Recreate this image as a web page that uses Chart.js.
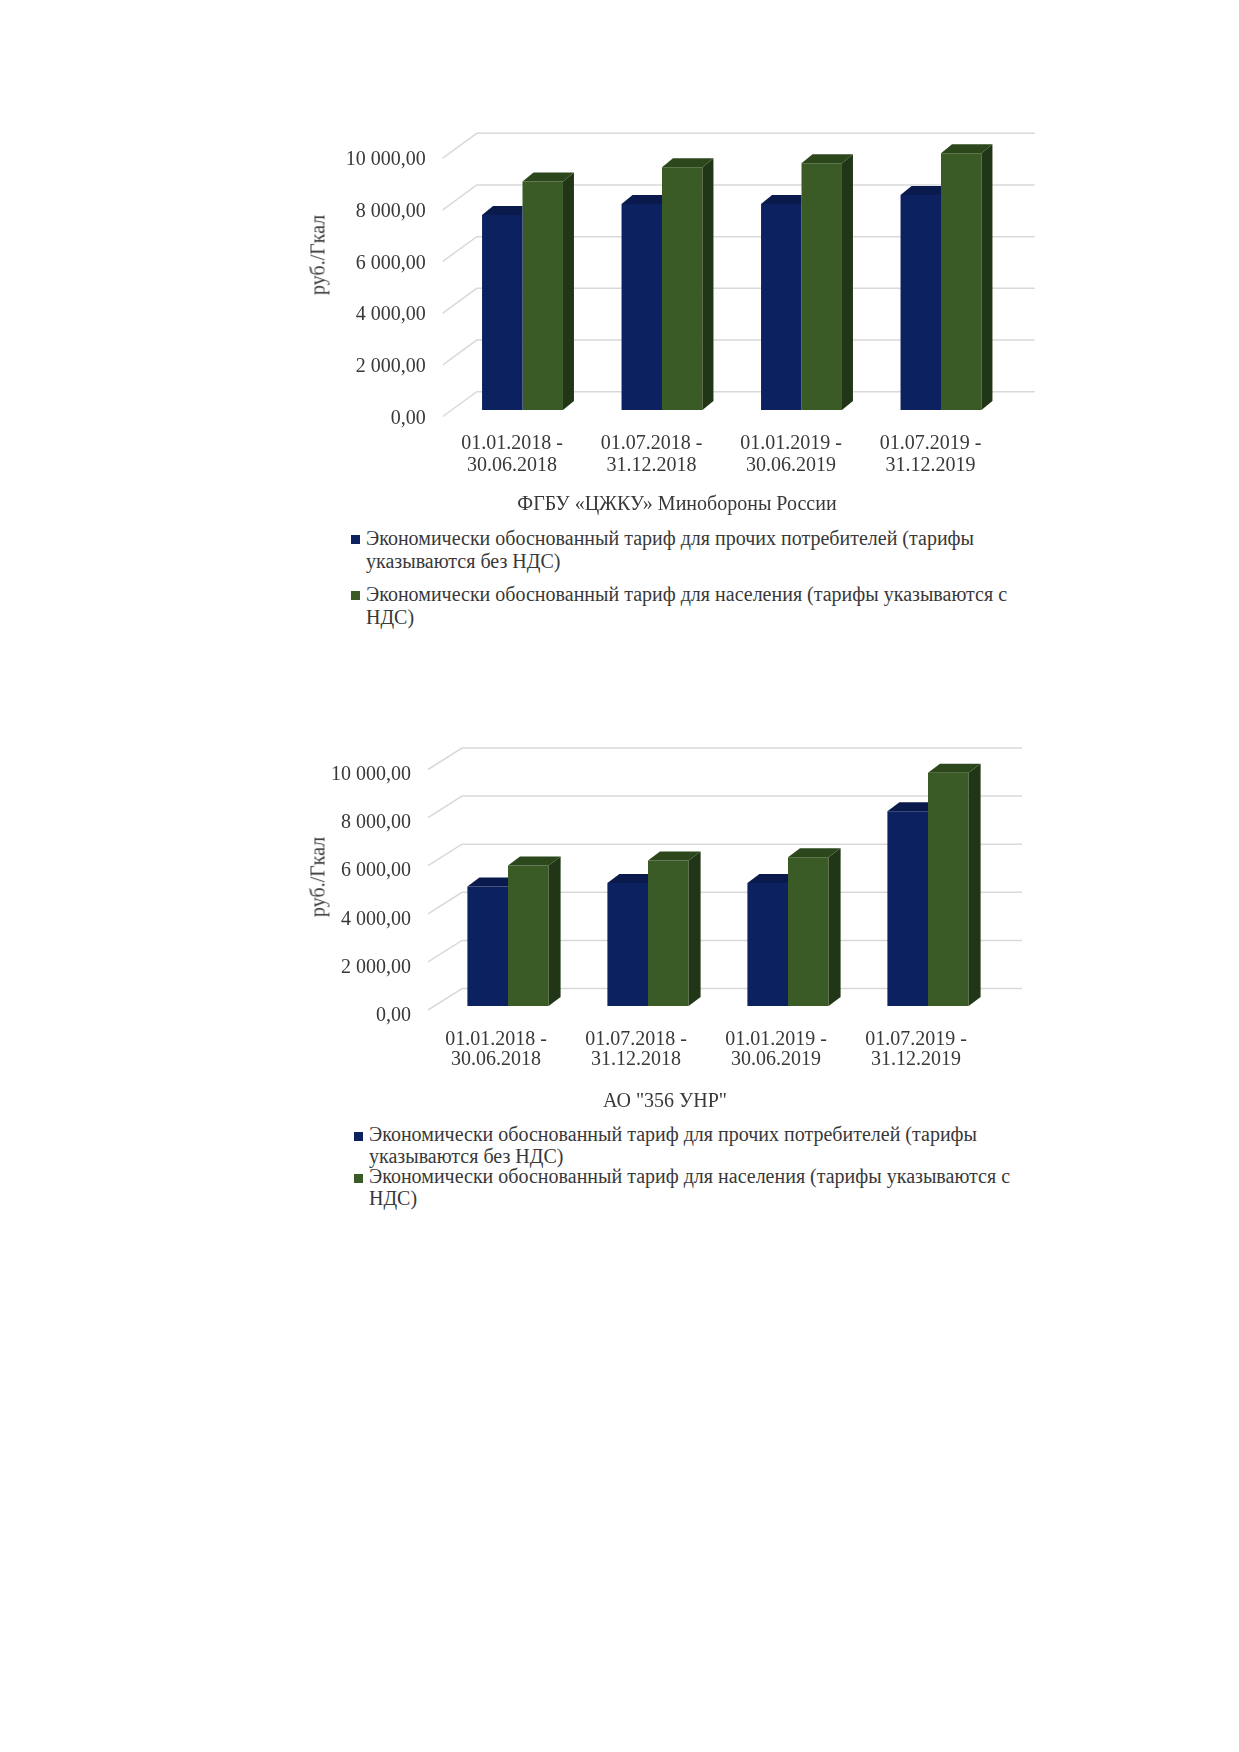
<!DOCTYPE html>
<html lang="ru">
<head>
<meta charset="utf-8">
<title>Экономически обоснованные тарифы</title>
<script src="https://cdn.jsdelivr.net/npm/chart.js@4.4.1/dist/chart.umd.min.js"></script>
<style>
  html, body { margin: 0; padding: 0; background: #fff; }
  #page {
    position: relative; width: 1239px; height: 1752px; background: #fff; overflow: hidden;
    font-family: 'Liberation Serif', 'Times New Roman', serif; color: #383838;
  }
  canvas { position: absolute; }
  .ytitle { position: absolute; font-size: 20px; line-height: 23px; white-space: nowrap;
            transform: translate(-50%, -50%) rotate(-90deg); }
  .ctitle { position: absolute; font-size: 20px; line-height: 23px; white-space: nowrap;
            transform: translate(-50%, -50%); }
  .legend { position: absolute; font-size: 20px; }
  .legend .item { position: relative; padding-left: 15px; }
  .legend .box { position: absolute; left: 0; width: 9px; height: 9px; }
</style>
</head>
<body>
<div id="page">
  <canvas id="chartMo" width="760" height="400" style="left:300px;top:100px"></canvas>
  <div class="ytitle" style="left:318px;top:255px">руб./Гкал</div>
  <div class="ctitle" id="titleMo" style="left:677px;top:502.5px"></div>
  <div class="legend" id="legendMo" style="left:351px;top:527px;width:685px;line-height:22.5px"></div>

  <canvas id="chartUnr" width="760" height="400" style="left:300px;top:700px"></canvas>
  <div class="ytitle" style="left:318px;top:877px">руб./Гкал</div>
  <div class="ctitle" id="titleUnr" style="left:665px;top:1100px"></div>
  <div class="legend" id="legendUnr" style="left:354px;top:1124px;width:685px;line-height:21.7px"></div>
</div>

<script>
// периоды регулирования
const periods = [
    ['01.01.2018 -', '30.06.2018'],
    ['01.07.2018 -', '31.12.2018'],
    ['01.01.2019 -', '30.06.2019'],
    ['01.07.2019 -', '31.12.2019']
];
const seriesNames = [
    'Экономически обоснованный тариф для прочих потребителей (тарифы указываются без НДС)',
    'Экономически обоснованный тариф для населения (тарифы указываются с НДС)'
];
const yTicks = [0, 2000, 4000, 6000, 8000, 10000];

// ФГБУ «ЦЖКУ» Минобороны России, руб./Гкал
const moTitle = 'ФГБУ «ЦЖКУ» Минобороны России';
const moOther = [7546, 7972, 7972, 8320];
const moPopulation = [8840, 9392, 9548, 9934];

// АО "356 УНР", руб./Гкал
const unrTitle = 'АО "356 УНР"';
const unrOther = [4970, 5110, 5110, 8100];
const unrPopulation = [5840, 6050, 6190, 9700];

const COLORS = [
    { front: '#0c215f', top: '#0a1a4c', side: '#08163e' },
    { front: '#3a5b25', top: '#2c471c', side: '#213616' }
];
const FONT_FAMILY = "'Liberation Serif', 'Times New Roman', serif";
const TEXT = '#383838';

function fmtRu(v) {
    const parts = Number(v).toFixed(2).split('.');
    return parts[0].replace(/\B(?=(\d{3})+(?!\d))/g, '\u00a0') + ',' + parts[1];
}

// псевдо-3D: стенки с сеткой и грани столбцов
const depth3d = {
    id: 'depth3d',
    beforeDatasetsDraw(chart, args, opts) {
        const { ctx, chartArea, scales } = chart;
        const y = scales.y;
        ctx.save();
        ctx.strokeStyle = '#d9d9d9';
        ctx.lineWidth = 1.5;
        y.ticks.forEach(t => {
            const py = y.getPixelForValue(t.value);
            ctx.beginPath();
            ctx.moveTo(chartArea.left + opts.front[0], py + opts.front[1]);
            ctx.lineTo(chartArea.left + opts.wall[0], py - opts.wall[1]);
            ctx.lineTo(chartArea.right + opts.wall[0], py - opts.wall[1]);
            ctx.stroke();
        });
        ctx.restore();
    },
    afterDatasetDraw(chart, args, opts) {
        const ctx = chart.ctx;
        const col = COLORS[args.index];
        const dx = opts.bar[0], dy = opts.bar[1];
        // у левого столбца боковая грань закрыта соседним (более высоким) столбцом
        const hidden = args.index < chart.data.datasets.length - 1;
        ctx.save();
        args.meta.data.forEach(bar => {
            const p = bar.getProps(['x', 'y', 'base', 'width'], true);
            const l = p.x - p.width / 2, r = p.x + p.width / 2;
            if (!hidden) {
                ctx.fillStyle = col.side;
                ctx.beginPath();
                ctx.moveTo(r, p.y);
                ctx.lineTo(r + dx, p.y - dy);
                ctx.lineTo(r + dx, p.base - dy);
                ctx.lineTo(r, p.base);
                ctx.closePath();
                ctx.fill();
            }
            const tr = hidden ? r : r + dx;
            ctx.fillStyle = col.top;
            ctx.beginPath();
            ctx.moveTo(l, p.y);
            ctx.lineTo(l + dx, p.y - dy);
            ctx.lineTo(tr, p.y - dy);
            ctx.lineTo(r, p.y);
            ctx.closePath();
            ctx.fill();
        });
        ctx.restore();
    }
};

function buildLegend(chart, el, gap) {
    chart.data.datasets.forEach((ds, i) => {
        const item = document.createElement('div');
        item.className = 'item';
        if (i > 0) item.style.marginTop = gap + 'px';
        const box = document.createElement('span');
        box.className = 'box';
        box.style.top = '8px';
        box.style.background = ds.backgroundColor;
        const txt = document.createElement('span');
        txt.textContent = ds.label;
        item.appendChild(box);
        item.appendChild(txt);
        el.appendChild(item);
    });
}

function makeChart(canvasId, other, population, lay) {
    const ctx = document.getElementById(canvasId).getContext('2d');
    return new Chart(ctx, {
        type: 'bar',
        data: {
            labels: periods,
            datasets: [
                { label: seriesNames[0], data: other, backgroundColor: COLORS[0].front, borderWidth: 0 },
                { label: seriesNames[1], data: population, backgroundColor: COLORS[1].front, borderWidth: 0 }
            ]
        },
        options: {
            responsive: false,
            animation: false,
            layout: { padding: { top: lay.padTop, right: lay.padRight, bottom: 0, left: 0 } },
            datasets: { bar: { categoryPercentage: 0.58, barPercentage: 1 } },
            scales: {
                x: {
                    grid: { display: false, drawTicks: false },
                    border: { display: false },
                    ticks: {
                        color: TEXT,
                        font: { family: FONT_FAMILY, size: 20, lineHeight: lay.xLine },
                        padding: lay.xPad, labelOffset: lay.xOffset,
                        maxRotation: 0, autoSkip: false
                    },
                    afterFit: s => { s.height = lay.xHeight; }
                },
                y: {
                    min: 0,
                    max: yTicks[yTicks.length - 1],
                    afterBuildTicks: s => { s.ticks = yTicks.map(v => ({ value: v })); },
                    grid: { display: false, drawTicks: false },
                    border: { display: false },
                    ticks: {
                        color: TEXT,
                        font: { family: FONT_FAMILY, size: 20, lineHeight: 1.15 },
                        padding: 27, labelOffset: lay.yOffset,
                        callback: v => fmtRu(v)
                    },
                    afterFit: s => { s.width = lay.yWidth; }
                }
            },
            plugins: {
                legend: { display: false },
                tooltip: { enabled: false },
                depth3d: { front: lay.front, wall: lay.wall, bar: lay.bar }
            }
        },
        plugins: [depth3d]
    });
}

document.addEventListener('DOMContentLoaded', () => {
    const mo = makeChart('chartMo', moOther, moPopulation, {
        padTop: 51.6, padRight: 49.25, yWidth: 152.75, xHeight: 90,
        xPad: 22, xLine: 1.135, xOffset: -10.5, yOffset: 8.5,
        front: [-10, 6.5], wall: [24, 18.3], bar: [11, 9]
    });
    const unr = makeChart('chartUnr', unrOther, unrPopulation, {
        padTop: 65.5, padRight: 62, yWidth: 138, xHeight: 94,
        xPad: 23, xLine: 1.035, xOffset: -12, yOffset: 9.5,
        front: [-10, 4], wall: [24, 17.5], bar: [12, 9]
    });
    document.getElementById('titleMo').textContent = moTitle;
    document.getElementById('titleUnr').textContent = unrTitle;
    buildLegend(mo, document.getElementById('legendMo'), 11);
    buildLegend(unr, document.getElementById('legendUnr'), -1);
});
</script>
</body>
</html>
